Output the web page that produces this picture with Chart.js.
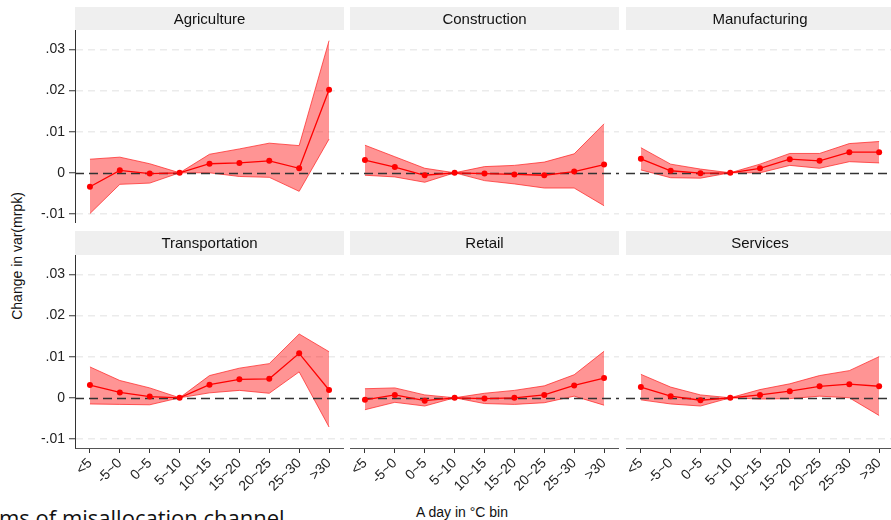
<!DOCTYPE html>
<html lang="en">
<head>
<meta charset="UTF-8">
<title>Change in var(mrpk) by temperature bin</title>
<script src="https://cdn.jsdelivr.net/npm/chart.js"></script>
<style>
    body {
        margin: 0;
        width: 891px;
        height: 520px;
        overflow: hidden;
        background: #fff;
        position: relative;
        font-family: "Liberation Sans", Arial, sans-serif;
        color: #111;
    }
    canvas { position: absolute; }
    #ytitle {
        position: absolute; left: 17px; top: 256px;
        transform: translate(-50%, -50%) rotate(-90deg);
        font-size: 14px; white-space: nowrap;
    }
    #xtitle {
        position: absolute; left: 462px; top: 512px;
        transform: translate(-50%, -50%);
        font-size: 14px; white-space: nowrap;
    }
    #pagetext {
        position: absolute; left: -1px; top: 506px;
        font-family: "Open Sans", sans-serif; font-size: 22px; line-height: 22px;
        white-space: nowrap;
    }
</style>
</head>
<body>

<div id="ytitle">Change in var(mrpk)</div>
<div id="xtitle">A day in °C bin</div>
<div id="pagetext">ms of misallocation channel</div>

<script>
// temperature bins (x categories)
const bins = ["<5", "-5~0", "0~5", "5~10", "10~15", "15~20", "20~25", "25~30", ">30"];
const sectors = ["Agriculture", "Construction", "Manufacturing", "Transportation", "Retail", "Services"];

// point estimates and 95% CI bounds
const agriEst = [-0.0034, 0.0006, -0.0002, 0, 0.0022, 0.0024, 0.0029, 0.0011, 0.0202];
const agriHi  = [0.0033, 0.0038, 0.0022, 0, 0.0045, 0.0058, 0.0072, 0.0066, 0.0321];
const agriLo  = [-0.0099, -0.0028, -0.0025, 0, 0.0000, -0.0009, -0.0011, -0.0045, 0.0082];

const consEst = [0.0031, 0.0014, -0.0006, 0, -0.0002, -0.0004, -0.0006, 0.0003, 0.0020];
const consHi  = [0.0067, 0.0039, 0.0011, 0, 0.0015, 0.0018, 0.0026, 0.0046, 0.0119];
const consLo  = [-0.0006, -0.0010, -0.0023, 0, -0.0019, -0.0027, -0.0037, -0.0037, -0.0080];

const manuEst = [0.0034, 0.0005, -0.0001, 0, 0.0011, 0.0033, 0.0029, 0.0050, 0.0050];
const manuHi  = [0.0061, 0.0021, 0.0009, 0, 0.0021, 0.0047, 0.0047, 0.0071, 0.0076];
const manuLo  = [0.0007, -0.0012, -0.0013, 0, 0.0000, 0.0018, 0.0011, 0.0027, 0.0024];

const tranEst = [0.0031, 0.0013, 0.0003, 0, 0.0032, 0.0045, 0.0046, 0.0108, 0.0019];
const tranHi  = [0.0075, 0.0042, 0.0024, 0, 0.0054, 0.0072, 0.0083, 0.0155, 0.0112];
const tranLo  = [-0.0015, -0.0016, -0.0017, 0, 0.0012, 0.0018, 0.0011, 0.0063, -0.0071];

const retaEst = [-0.0005, 0.0007, -0.0007, 0, -0.0002, 0.0000, 0.0007, 0.0030, 0.0048];
const retaHi  = [0.0022, 0.0024, 0.0007, 0, 0.0011, 0.0018, 0.0029, 0.0056, 0.0113];
const retaLo  = [-0.0029, -0.0011, -0.0020, 0, -0.0014, -0.0016, -0.0012, 0.0004, -0.0018];

const servEst = [0.0026, 0.0004, -0.0006, 0, 0.0007, 0.0016, 0.0028, 0.0033, 0.0028];
const servHi  = [0.0057, 0.0026, 0.0007, 0, 0.0020, 0.0034, 0.0054, 0.0066, 0.0100];
const servLo  = [-0.0005, -0.0015, -0.0020, 0, -0.0003, -0.0002, 0.0004, 0.0000, -0.0043];

const yTicks = [-0.01, 0, 0.01, 0.02, 0.03];

const series = [
    [agriEst, agriHi, agriLo], [consEst, consHi, consLo], [manuEst, manuHi, manuLo],
    [tranEst, tranHi, tranLo], [retaEst, retaHi, retaLo], [servEst, servHi, servLo]
];

const FONT = '"Liberation Sans", Arial, sans-serif';

// panel grid geometry (pixels)
const plotLeft = [75, 350, 626];
const plotRight = [344, 619, 894];
const stripTop = [7, 231];
const plotTop = [30, 255];
const plotBottom = [223, 448];
const xAxisH = 62;

// strip header + zero reference line
const panelPlugin = {
    id: 'panel',
    beforeDraw(chart, args, opts) {
        const { ctx, chartArea: a } = chart;
        ctx.save();
        ctx.fillStyle = '#efefef';
        ctx.fillRect(a.left, 0, a.right - a.left, a.top);
        ctx.fillStyle = '#111';
        ctx.font = '15px ' + FONT;
        ctx.textAlign = 'center';
        ctx.textBaseline = 'middle';
        ctx.fillText(opts.title, (a.left + a.right) / 2, a.top / 2 + 1);
        ctx.restore();
    },
    afterDatasetDraw(chart, args) {
        if (args.index !== 1) return;
        const { ctx, chartArea: a } = chart;
        const y0 = Math.round(chart.scales.y.getPixelForValue(0)) + 0.5;
        ctx.save();
        ctx.strokeStyle = '#333';
        ctx.lineWidth = 1.3;
        ctx.setLineDash([9, 5]);
        ctx.beginPath();
        ctx.moveTo(a.left, y0);
        ctx.lineTo(a.right, y0);
        ctx.stroke();
        ctx.restore();
    }
};

function fmtTick(v) {
    if (Math.abs(v) < 1e-9) return '0';
    return v.toFixed(2).replace('0.', '.');
}

sectors.forEach((name, i) => {
    const row = Math.floor(i / 3), col = i % 3;
    const isLeft = col === 0, isBottom = row === 1;
    const yw = isLeft ? 75 : 10;
    const w = yw + (plotRight[col] - plotLeft[col]);
    const h = (plotBottom[row] - stripTop[row]) + (isBottom ? xAxisH : 0);

    const canvas = document.createElement('canvas');
    canvas.width = w;
    canvas.height = h;
    canvas.style.left = (plotLeft[col] - yw) + 'px';
    canvas.style.top = stripTop[row] + 'px';
    document.body.appendChild(canvas);

    const [est, hi, lo] = series[i];

    new Chart(canvas.getContext('2d'), {
        type: 'line',
        data: {
            labels: bins,
            datasets: [
                { data: est, borderColor: '#ff0000', backgroundColor: '#ff0000', borderWidth: 1.3,
                  pointRadius: 3, pointBackgroundColor: '#ff0000', pointBorderWidth: 0, fill: false },
                { data: hi, borderColor: 'rgba(255,40,40,0.75)', borderWidth: 1, pointRadius: 0, fill: false },
                { data: lo, borderColor: 'rgba(255,40,40,0.75)', borderWidth: 1, pointRadius: 0,
                  fill: '-1', backgroundColor: 'rgba(255,0,0,0.42)' }
            ]
        },
        options: {
            responsive: false,
            animation: false,
            devicePixelRatio: 1,
            layout: {
                autoPadding: false,
                padding: { top: plotTop[row] - stripTop[row], right: 0, bottom: 0, left: 0 }
            },
            plugins: {
                legend: { display: false },
                tooltip: { enabled: false },
                panel: { title: name }
            },
            scales: {
                x: {
                    type: 'category',
                    display: true,
                    offset: true,
                    grid: { offset: false, drawOnChartArea: false, drawTicks: isBottom, tickLength: 5,
                            tickColor: '#333', tickWidth: 1 },
                    border: { display: isBottom, color: '#555', width: 1 },
                    ticks: { display: isBottom, autoSkip: false, minRotation: 45, maxRotation: 45, padding: 2,
                             color: '#222', font: { size: 14, family: FONT } },
                    afterFit(scale) {
                        scale.height = isBottom ? xAxisH : 0;
                        scale.paddingLeft = 0;
                        scale.paddingRight = 0;
                    }
                },
                y: {
                    min: -0.0122,
                    max: 0.0347,
                    afterBuildTicks(scale) {
                        scale.ticks = yTicks.map(v => ({ value: v }));
                    },
                    ticks: { display: isLeft, callback: fmtTick, padding: 4,
                             color: '#222', font: { size: 14, family: FONT } },
                    grid: {
                        color: c => (c.tick && Math.abs(c.tick.value) < 1e-9) ? 'rgba(0,0,0,0)' : '#ebebeb',
                        lineWidth: 1.5,
                        drawTicks: isLeft,
                        tickLength: 6,
                        tickColor: '#333',
                        tickWidth: 1,
                        tickBorderDash: []
                    },
                    border: { display: isLeft, color: '#333', width: 1, dash: [7, 5] },
                    afterFit(scale) {
                        scale.width = yw;
                        scale.paddingTop = 0;
                        scale.paddingBottom = 0;
                    }
                }
            }
        },
        plugins: [panelPlugin]
    });
});
</script>
</body>
</html>
